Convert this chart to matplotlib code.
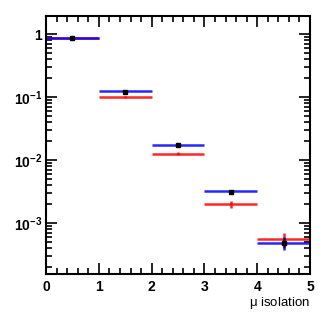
import numpy as np
import matplotlib
matplotlib.use("Agg")
import matplotlib.pyplot as plt
from matplotlib.ticker import LogLocator, MultipleLocator

# bin edges and contents
edges = [0, 1, 2, 3, 4, 5]
blue_vals = [0.855, 0.124, 0.0173, 0.0032, 0.00049]
red_vals = [0.875, 0.101, 0.0126, 0.0020, 0.00055]
red_err = [0.01, 0.003, 0.0007, 0.00025, 0.00015]
blue_err = [0.01, 0.003, 0.0006, 0.0002, 0.00012]
data_vals = [0.85, 0.118, 0.0170, 0.0031, 0.00049]
data_err = [0.02, 0.005, 0.0008, 0.00025, 0.00008]
ytick_vals = [1e-3, 1e-2, 1e-1, 1]
ytick_labels = [r'$\mathregular{10^{-3}}$', r'$\mathregular{10^{-2}}$',
                r'$\mathregular{10^{-1}}$', '1']

plt.rcParams['font.family'] = ['Liberation Sans', 'DejaVu Sans']
plt.rcParams['mathtext.default'] = 'regular'

fig = plt.figure(figsize=(3.27, 3.27), dpi=100)
ax = fig.add_axes([0.141, 0.162, 0.807, 0.789])

centers = [(edges[i] + edges[i + 1]) / 2 for i in range(len(edges) - 1)]
halfw = [(edges[i + 1] - edges[i]) / 2 for i in range(len(edges) - 1)]

ax.errorbar(centers, red_vals, xerr=halfw, yerr=red_err, fmt='none',
            ecolor='red', elinewidth=1.8, capsize=0, alpha=0.85)
ax.errorbar(centers, blue_vals, xerr=halfw, yerr=blue_err, fmt='none',
            ecolor='blue', elinewidth=1.8, capsize=0, alpha=0.85)
ax.errorbar(centers, data_vals, yerr=data_err, fmt='s', color='black',
            markersize=3, elinewidth=1, capsize=0)

ax.set_yscale('log')
ax.set_xlim(0, 5)
ax.set_ylim(1.55e-4, 1.93)

ax.xaxis.set_major_locator(MultipleLocator(1))
ax.xaxis.set_minor_locator(MultipleLocator(0.2))
ax.yaxis.set_minor_locator(LogLocator(base=10, subs=np.arange(2, 10), numticks=20))

ax.tick_params(which='both', direction='in', top=True, right=True, width=1.2)
ax.tick_params(which='major', length=8, labelsize=10)
ax.tick_params(which='minor', length=4)
ax.tick_params(axis='x', pad=4)
ax.tick_params(axis='y', pad=3)

for s in ax.spines.values():
    s.set_linewidth(1.5)

ax.set_yticks(ytick_vals)
ax.set_yticklabels(ytick_labels)
for lbl in ax.get_xticklabels() + ax.get_yticklabels():
    lbl.set_fontweight('bold')

fig.text(0.948, 0.072, r'$\mu$ isolation', ha='right', va='center',
         fontsize=9.5)

fig.savefig('out.png', dpi=100)
